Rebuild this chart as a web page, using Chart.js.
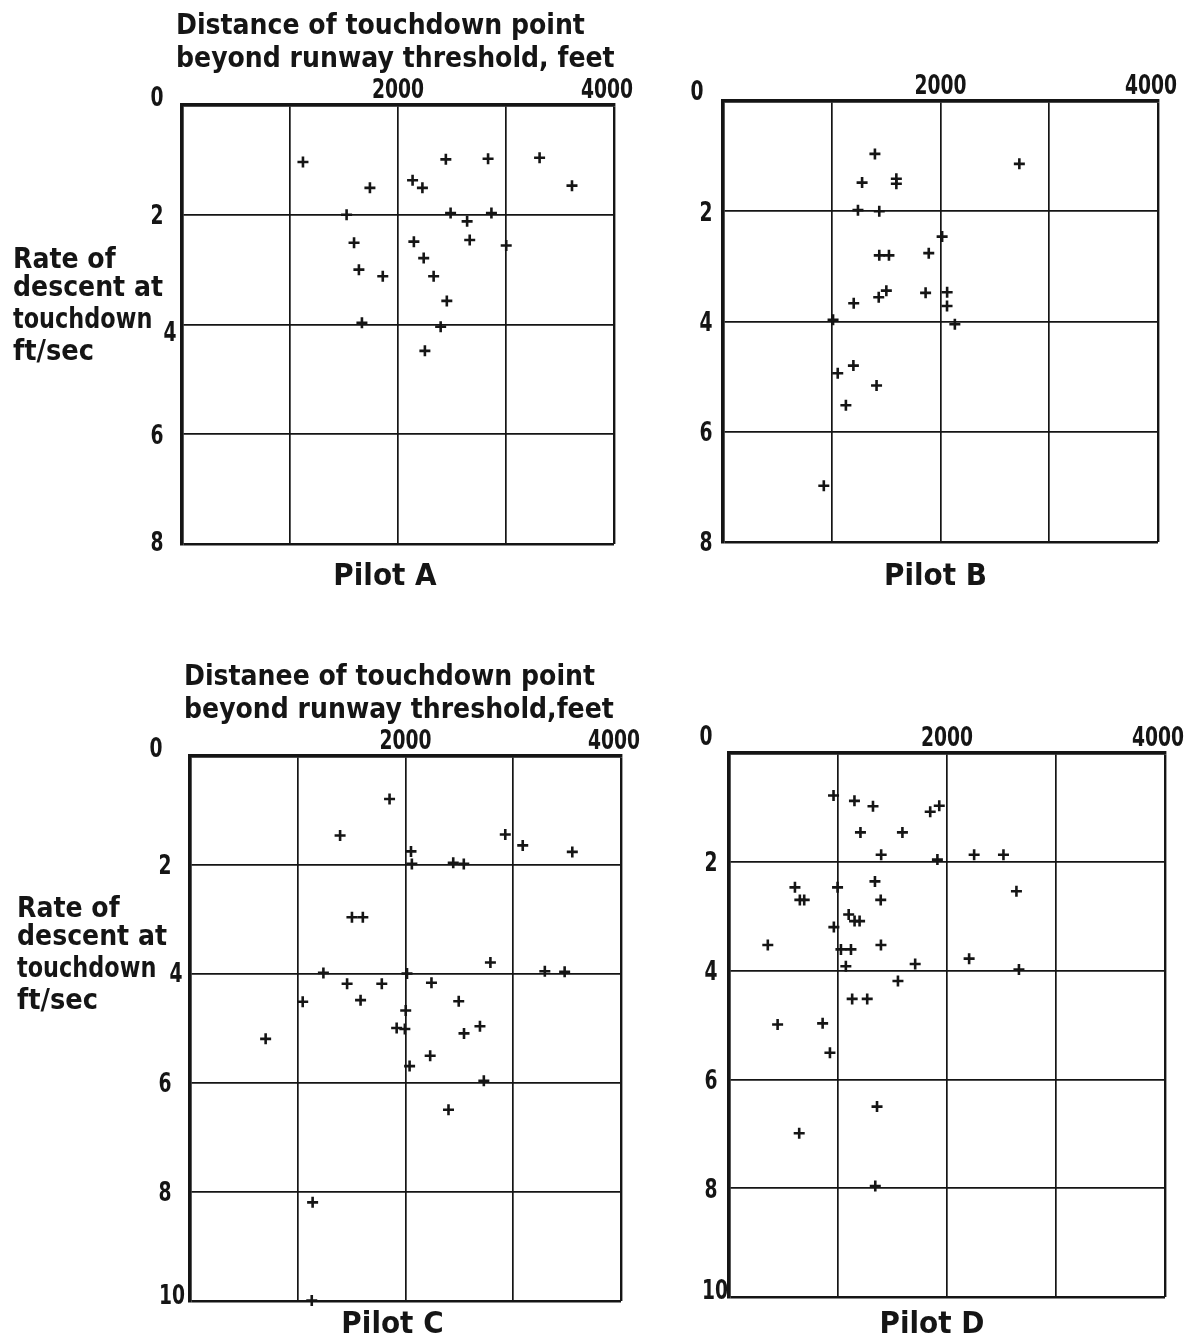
<!DOCTYPE html>
<html>
<head>
<meta charset="utf-8">
<title>Touchdown distance and rate of descent, Pilots A-D</title>
<script src="https://cdn.jsdelivr.net/npm/chart.js@4.4.1/dist/chart.umd.min.js"></script>
<style>
  html, body { margin: 0; padding: 0; background: #ffffff; }
  #sheet { position: relative; width: 1186px; height: 1341px; overflow: hidden; background: #ffffff; }
  #sheet canvas { position: absolute; left: 0; top: 0; }
</style>
</head>
<body>
<div id="sheet">
  <canvas id="pilotA" width="1186" height="1341"></canvas>
  <canvas id="pilotB" width="1186" height="1341"></canvas>
  <canvas id="pilotC" width="1186" height="1341"></canvas>
  <canvas id="pilotD" width="1186" height="1341"></canvas>
</div>
<script>
// Distance of touchdown point beyond runway threshold (ft) and rate of descent at touchdown (ft/sec)
const pilotA_distance = [1120, 1740, 2443, 2834, 3311, 3611, 2135, 2226, 1524, 2487, 2640, 2865, 1593, 2147, 2664, 3002, 2238, 1638, 1859, 2330, 2452, 1666, 2395, 2249];
const pilotA_rate     = [1.04, 1.51, 0.99, 0.98, 0.96, 1.47, 1.37, 1.51, 2.00, 1.97, 2.12, 1.97, 2.51, 2.49, 2.46, 2.56, 2.79, 3.00, 3.12, 3.12, 3.57, 3.97, 4.04, 4.48];

const pilotB_distance = [1397, 2725, 1279, 1594, 1594, 1241, 1437, 2015, 1437, 1526, 1892, 1502, 1432, 1863, 2061, 2060, 1202, 1012, 2132, 1199, 1055, 1412, 1130, 927];
const pilotB_rate     = [0.96, 1.14, 1.48, 1.41, 1.50, 1.98, 2.00, 2.46, 2.80, 2.80, 2.76, 3.44, 3.56, 3.48, 3.47, 3.72, 3.67, 3.97, 4.05, 4.80, 4.94, 5.16, 5.52, 6.98];

const pilotC_distance = [1852, 1393, 2051, 2059, 2443, 2541, 2926, 3088, 3548, 1503, 1604, 2788, 1238, 2014, 3293, 3477, 1458, 1780, 2241, 1046, 1583, 2494, 2002, 1918, 1994, 2691, 2543, 702, 2229, 2038, 2727, 4153, 2399, 1138, 1130];
const pilotC_rate     = [0.79, 1.46, 1.75, 1.98, 1.96, 1.98, 1.44, 1.64, 1.76, 2.96, 2.96, 3.79, 3.98, 3.99, 3.95, 3.96, 4.18, 4.18, 4.16, 4.51, 4.48, 4.50, 4.67, 4.99, 5.01, 4.96, 5.09, 5.19, 5.50, 5.69, 5.96, 5.94, 6.49, 8.19, 9.99];

const pilotD_distance = [959, 1151, 1321, 1846, 1929, 1206, 1591, 1396, 1912, 2249, 2518, 605, 650, 690, 996, 1339, 1392, 2637, 1098, 1152, 1198, 962, 356, 1027, 1119, 1394, 1072, 1708, 2203, 2660, 1550, 1130, 1268, 446, 859, 926, 1358, 644, 1342];
const pilotD_rate     = [0.78, 0.88, 0.98, 1.08, 0.97, 1.46, 1.46, 1.87, 1.96, 1.87, 1.87, 2.47, 2.70, 2.70, 2.47, 2.36, 2.70, 2.54, 2.97, 3.09, 3.09, 3.20, 3.53, 3.61, 3.61, 3.53, 3.92, 3.88, 3.78, 3.98, 4.19, 4.52, 4.52, 4.99, 4.97, 5.51, 6.50, 6.99, 7.96];

// Axis ranges and tick labels
const distanceMax = 4000;
const distanceStep = 1000;
const distanceLabels = [2000, 4000];
const rateStep = 2;
const rateLabelsUpper = [0, 2, 4, 6, 8];
const rateLabelsLower = [0, 2, 4, 6, 8, 10];

// Lettering
const titleUpper = ['Distance of touchdown point', 'beyond runway threshold, feet'];
const titleLower = ['Distanee of touchdown point', 'beyond runway threshold,feet'];
const rateTitle = ['Rate of', 'descent at', 'touchdown', 'ft/sec'];

const INK = '#151515';
const FACE = '"DejaVu Sans", "Liberation Sans", sans-serif';
const TEXT_STYLE  = { size: 28, sx: 0.9 };
const DIGIT_STYLE = { size: 26, sx: 0.72 };
const PILOT_STYLE = { size: 30, sx: 0.93 };
// hand lettering runs a little narrower on "touchdown"
const RATE_TITLE_SX = [0.9, 0.9, 0.8, 0.92];

// Draws horizontally condensed lettering anchored at (x, baseline)
function letter(ctx, str, x, y, style, align) {
  ctx.save();
  ctx.font = 'bold ' + style.size + 'px ' + FACE;
  ctx.textAlign = align || 'left';
  ctx.textBaseline = 'alphabetic';
  ctx.fillStyle = INK;
  ctx.translate(x, y);
  ctx.scale(style.sx, 1);
  ctx.fillText(str, 0, 0);
  ctx.restore();
}
// Digits placed by their visual centre
function digits(ctx, str, cx, cy) {
  letter(ctx, str, cx, cy + DIGIT_STYLE.size * 0.729 / 2, DIGIT_STYLE, 'center');
}

function letteringPlugin(panel) {
  return {
    id: 'lettering',
    afterDraw(chart) {
      const ctx = chart.ctx;
      const area = chart.chartArea;
      const xs = chart.scales.x;
      const ys = chart.scales.y;

      if (panel.title) {
        panel.title.forEach((line, i) =>
          letter(ctx, line, area.left - 6, area.top + [-71, -38][i], TEXT_STYLE, 'left'));
      }
      // distance labels along the top edge
      distanceLabels.forEach(v => {
        const dx = v === distanceMax ? -7 : 0;
        digits(ctx, String(v), xs.getPixelForValue(v) + dx, area.top - 16);
      });
      // rate labels along the left edge; "0" sits at the corner
      panel.rateLabels.forEach(v => {
        if (v === 0) {
          digits(ctx, '0', area.left + panel.zero[0], area.top + panel.zero[1]);
          return;
        }
        const o = (panel.adjust && panel.adjust[v]) || [0, 0];
        digits(ctx, String(v), area.left + panel.labelDx + o[0], ys.getPixelForValue(v) + o[1]);
      });
      if (panel.rateTitle) {
        const y4 = ys.getPixelForValue(4);
        [-57, -29, 3, 35].forEach((dy, i) =>
          letter(ctx, rateTitle[i], area.left - panel.rateTitleDx, y4 + dy,
                 { size: TEXT_STYLE.size, sx: RATE_TITLE_SX[i] }, 'left'));
      }
      const mid = (area.left + area.right) / 2;
      letter(ctx, panel.name, mid + panel.nameOffset[0], area.bottom + panel.nameOffset[1], PILOT_STYLE, 'center');
    }
  };
}

function points(xs, ys) {
  return xs.map((x, i) => ({ x: x, y: ys[i] }));
}

function makePanel(id, data, rateMax, frame, panel) {
  const W = 1186, H = 1341;
  const edgeWidth = (max) => (c) => (c.tick && (c.tick.value === 0 || c.tick.value === max)) ? 2.4 : 1.7;
  return new Chart(document.getElementById(id), {
    type: 'scatter',
    data: {
      datasets: [{
        data: data,
        pointStyle: 'cross',
        pointRadius: 5.5,
        pointBorderWidth: 2.6,
        pointBorderColor: INK,
        borderColor: INK,
        clip: false
      }]
    },
    options: {
      responsive: false,
      animation: false,
      devicePixelRatio: 1,
      events: [],
      layout: { padding: { left: frame.L, top: frame.T, right: W - frame.R, bottom: H - frame.B } },
      plugins: { legend: { display: false }, tooltip: { enabled: false }, title: { display: false } },
      scales: {
        x: {
          type: 'linear', position: 'top', min: 0, max: distanceMax,
          ticks: { display: false, stepSize: distanceStep },
          grid: { color: INK, lineWidth: edgeWidth(distanceMax), drawTicks: false },
          border: { display: true, color: INK, width: 3.5 },
          afterFit(s) { s.height = 0; }
        },
        y: {
          type: 'linear', reverse: true, min: 0, max: rateMax,
          ticks: { display: false, stepSize: rateStep },
          grid: { color: INK, lineWidth: edgeWidth(rateMax), drawTicks: false },
          border: { display: true, color: INK, width: 3.5 },
          afterFit(s) { s.width = 0; }
        }
      }
    },
    plugins: [letteringPlugin(panel)]
  });
}

makePanel('pilotA', points(pilotA_distance, pilotA_rate), 8,
  { L: 182, T: 105, R: 614, B: 544 },
  { name: 'Pilot A', title: titleUpper, rateTitle: true, rateTitleDx: 169, rateLabels: rateLabelsUpper,
    zero: [-25, -8], labelDx: -25, adjust: { 4: [13, 7], 8: [0, -2] }, nameOffset: [-13, 41] });

makePanel('pilotB', points(pilotB_distance, pilotB_rate), 8,
  { L: 723, T: 101, R: 1158, B: 542 },
  { name: 'Pilot B', rateLabels: rateLabelsUpper,
    zero: [-26, -10], labelDx: -17, nameOffset: [-5, 43] });

makePanel('pilotC', points(pilotC_distance, pilotC_rate), 10,
  { L: 190, T: 756, R: 621, B: 1301 },
  { name: 'Pilot C', title: titleLower, rateTitle: true, rateTitleDx: 173, rateLabels: rateLabelsLower,
    zero: [-34, -8], labelDx: -25, adjust: { 4: [11, -1], 10: [7, -6] }, nameOffset: [-13, 32] });

makePanel('pilotD', points(pilotD_distance, pilotD_rate), 10,
  { L: 729, T: 753, R: 1165, B: 1297 },
  { name: 'Pilot D', rateLabels: rateLabelsLower,
    zero: [-23, -17], labelDx: -18, adjust: { 10: [4, -7] }, nameOffset: [-15, 36] });
</script>
</body>
</html>
